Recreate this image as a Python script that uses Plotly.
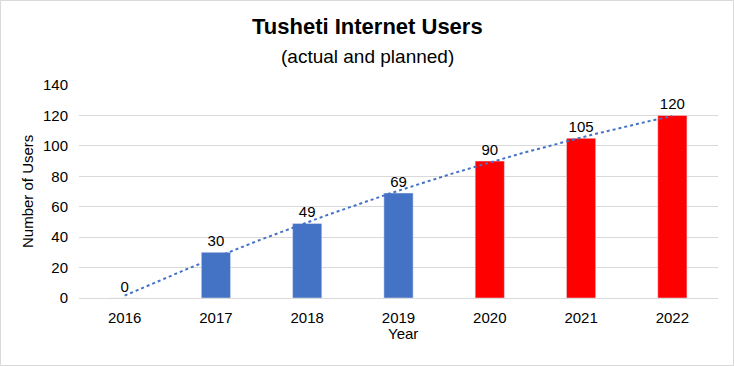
import numpy as np
import plotly.graph_objects as go

years = [2016, 2017, 2018, 2019, 2020, 2021, 2022]
users = [0, 30, 49, 69, 90, 105, 120]
bar_colors = ["#4472C4", "#4472C4", "#4472C4", "#4472C4", "#FF0000", "#FF0000", "#FF0000"]
y_ticks = [0, 20, 40, 60, 80, 100, 120, 140]

# polynomial (order 2) trendline computed from the data
coef = np.polyfit(np.array(years) - years[0], users, 2)
tx = np.linspace(years[0], years[-1], 200)
ty = np.polyval(coef, tx - years[0])

font = "Liberation Sans, Arial, sans-serif"

W, H = 734, 366
ML, MR, MT, MB = 79, 16, 85, 68
PW, PH = W - ML - MR, H - MT - MB

def px(xp):
    return (xp - ML) / PW

def py(yp):
    return (H - MB - yp) / PH

fig = go.Figure()
fig.add_trace(go.Bar(
    x=years, y=users, marker_color=bar_colors, width=0.32,
    text=[str(v) for v in users], textposition="outside",
    textfont=dict(size=15, color="#000000", family=font),
    cliponaxis=False, showlegend=False,
))
fig.add_trace(go.Scatter(
    x=tx, y=ty, mode="lines",
    line=dict(color="#4472C4", width=2, dash="dot"),
    showlegend=False, hoverinfo="skip",
))

fig.update_layout(
    width=W, height=H,
    margin=dict(l=ML, r=MR, t=MT, b=MB),
    paper_bgcolor="white", plot_bgcolor="white",
    font=dict(family=font, color="#000000"),
    shapes=[dict(type="rect", xref="paper", yref="paper",
                 x0=px(0.5), x1=px(W - 0.5), y0=py(H - 0.5), y1=py(0.5),
                 line=dict(color="#D9D9D9", width=1), layer="below")],
)

fig.add_annotation(text="<b>Tusheti Internet Users</b>", x=px(367), y=py(26),
                   xref="paper", yref="paper", showarrow=False,
                   font=dict(size=22, family=font, color="#000000"), yanchor="middle")
fig.add_annotation(text="(actual and planned)", x=px(367), y=py(56),
                   xref="paper", yref="paper", showarrow=False,
                   font=dict(size=19, family=font, color="#000000"), yanchor="middle")
fig.add_annotation(text="Year", x=px(403), y=py(333),
                   xref="paper", yref="paper", showarrow=False,
                   font=dict(size=15, family=font, color="#000000"), yanchor="middle")
fig.add_annotation(text="Number of Users", x=px(27), y=py(192), textangle=-90,
                   xref="paper", yref="paper", showarrow=False,
                   font=dict(size=15, family=font, color="#000000"),
                   xanchor="center", yanchor="middle")

fig.update_xaxes(
    tickmode="array", tickvals=years, ticktext=[str(y) for y in years],
    range=[years[0] - 0.5, years[-1] + 0.5],
    showgrid=False, showline=True, linecolor="#D9D9D9", linewidth=1,
    ticks="", tickfont=dict(size=15, color="#000000"), ticklabelstandoff=6,
)
fig.update_yaxes(
    tickmode="array", tickvals=y_ticks, range=[0, 140],
    showgrid=True, gridcolor="#D9D9D9", gridwidth=1, zeroline=False,
    ticks="", tickfont=dict(size=15, color="#000000"), ticklabelstandoff=10,
)

fig.write_html("out.html", config={"displayModeBar": False},
               post_script="document.body.style.margin='0';document.body.style.padding='0';")
